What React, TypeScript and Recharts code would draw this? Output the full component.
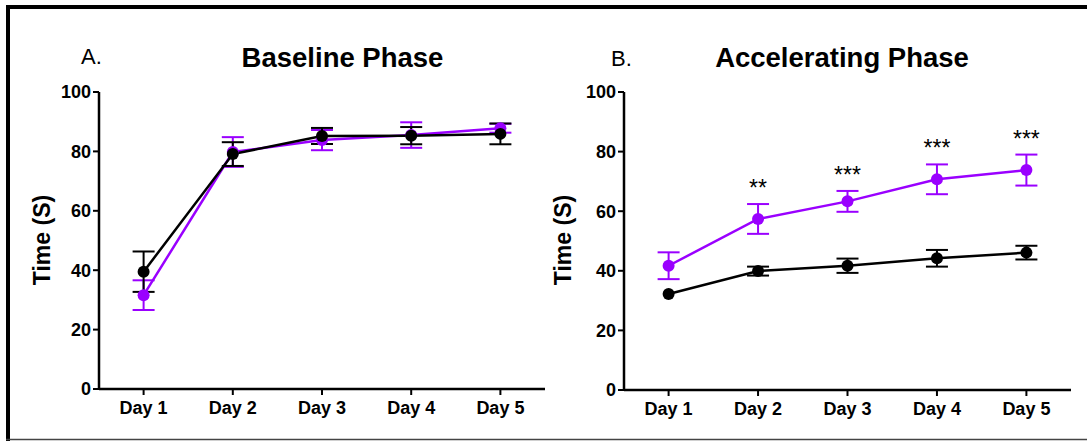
import { LineChart, Line, XAxis, YAxis, ErrorBar, LabelList } from "recharts";

const days = ["Day 1", "Day 2", "Day 3", "Day 4", "Day 5"];
const yTicks = [0, 20, 40, 60, 80, 100];

// A. Baseline Phase
const baseBlack = [39.5, 79.1, 85.2, 85.3, 85.9];
const baseBlackErr = [6.8, 4, 2.7, 2.9, 3.5];
const basePurple = [31.6, 79.8, 83.8, 85.5, 87.8];
const basePurpleErr = [5, 5, 3.4, 4.3, 1.5];

// B. Accelerating Phase
const accBlack = [32.2, 39.9, 41.7, 44.2, 46.1];
const accBlackErr = [0, 1.5, 2.4, 2.8, 2.3];
const accPurple = [41.7, 57.4, 63.3, 70.7, 73.8];
const accPurpleErr = [4.5, 5, 3.5, 5, 5.2];
const accSig = ["", "**", "***", "***", "***"];

const PURPLE = "#9a00ff";
const FONT = "'Liberation Sans', Arial, sans-serif";
const PLOT_TOP = 92;

const baseData = days.map((day, i) => ({
  day,
  black: baseBlack[i],
  blackErr: baseBlackErr[i],
  purple: basePurple[i],
  purpleErr: basePurpleErr[i],
}));

const accData = days.map((day, i) => ({
  day,
  black: accBlack[i],
  blackErr: accBlackErr[i],
  purple: accPurple[i],
  purpleErr: accPurpleErr[i],
  sig: accSig[i],
}));

interface PanelProps {
  data: any[];
  left: number;
  width: number;
  axisX: number;
  axisY: number;
  labelX: number;
  showSig?: boolean;
}

function Panel({ data, left, width, axisX, axisY, labelX, showSig }: PanelProps) {
  const height = 441;
  const plotH = axisY - PLOT_TOP;
  const pxPerUnit = plotH / 100;

  const renderStar = (props: any) => {
    const { x, y, value, index } = props;
    if (!value) return null;
    const top = y - data[index].purpleErr * pxPerUnit;
    return (
      <text
        x={x}
        y={top - 8}
        textAnchor="middle"
        fontSize={23}
        fontFamily={FONT}
        fill="#000"
      >
        {value}
      </text>
    );
  };

  return (
    <div style={{ position: "absolute", left, top: 0 }}>
      <LineChart
        width={width}
        height={height}
        data={data}
        margin={{ top: PLOT_TOP, right: 16, bottom: 0, left: 0 }}
      >
        <XAxis
          dataKey="day"
          height={height - axisY}
          padding={{ left: 44.6, right: 44.6 }}
          axisLine={{ stroke: "#000", strokeWidth: 2.5 }}
          tickLine={{ stroke: "#000", strokeWidth: 2 }}
          tickSize={6}
          tickMargin={6}
          tick={{ fill: "#000", fontSize: 18, fontWeight: "bold", fontFamily: FONT }}
        />
        <YAxis
          width={axisX - left}
          domain={[0, 100]}
          ticks={yTicks}
          interval={0}
          axisLine={{ stroke: "#000", strokeWidth: 2.5 }}
          tickLine={{ stroke: "#000", strokeWidth: 2 }}
          tickSize={6}
          tickMargin={2}
          tick={{ fill: "#000", fontSize: 18, fontWeight: "bold", fontFamily: FONT }}
          label={{
            content: () => (
              <text
                x={labelX}
                y={240}
                transform={`rotate(-90 ${labelX} 240)`}
                textAnchor="middle"
                dominantBaseline="central"
                fontSize={23}
                fontWeight="bold"
                fontFamily={FONT}
                fill="#000"
              >
                Time (S)
              </text>
            ),
          }}
        />
        <Line
          dataKey="purple"
          stroke={PURPLE}
          strokeWidth={2.5}
          dot={{ r: 6, fill: PURPLE, stroke: PURPLE, strokeWidth: 0 }}
          isAnimationActive={false}
        >
          <ErrorBar dataKey="purpleErr" width={11} stroke={PURPLE} strokeWidth={2} direction="y" />
          {showSig && <LabelList dataKey="sig" content={renderStar} />}
        </Line>
        <Line
          dataKey="black"
          stroke="#000"
          strokeWidth={2.5}
          dot={{ r: 6, fill: "#000", stroke: "#000", strokeWidth: 0 }}
          isAnimationActive={false}
        >
          <ErrorBar dataKey="blackErr" width={11} stroke="#000" strokeWidth={2} direction="y" />
        </Line>
      </LineChart>
    </div>
  );
}

export default function App() {
  return (
    <div
      style={{
        position: "relative",
        width: 1087,
        height: 441,
        background: "#fff",
        overflow: "hidden",
        fontFamily: FONT,
      }}
    >
      <style>{`body{margin:0}`}</style>
      <Panel data={baseData} left={0} width={561} axisX={99} axisY={389} labelX={42} />
      <Panel data={accData} left={520} width={567} axisX={624} axisY={390} labelX={43} showSig />
      <svg
        width={1087}
        height={441}
        style={{ position: "absolute", left: 0, top: 0, pointerEvents: "none" }}
      >
        <line x1={6} y1={7} x2={1087} y2={7} stroke="#000" strokeWidth={4} />
        <line x1={8} y1={5} x2={8} y2={441} stroke="#000" strokeWidth={4} />
        <line x1={6} y1={439.5} x2={1087} y2={439.5} stroke="#444" strokeWidth={1.5} />
        <text x={81} y={63.5} fontSize={22} fontFamily={FONT} fill="#000">
          A.
        </text>
        <text x={342.5} y={67} textAnchor="middle" fontSize={27.5} fontWeight="bold" fontFamily={FONT} fill="#000">
          Baseline Phase
        </text>
        <text x={611} y={66} fontSize={22} fontFamily={FONT} fill="#000">
          B.
        </text>
        <text x={842} y={67} textAnchor="middle" fontSize={27.5} fontWeight="bold" fontFamily={FONT} fill="#000">
          Accelerating Phase
        </text>
      </svg>
    </div>
  );
}
